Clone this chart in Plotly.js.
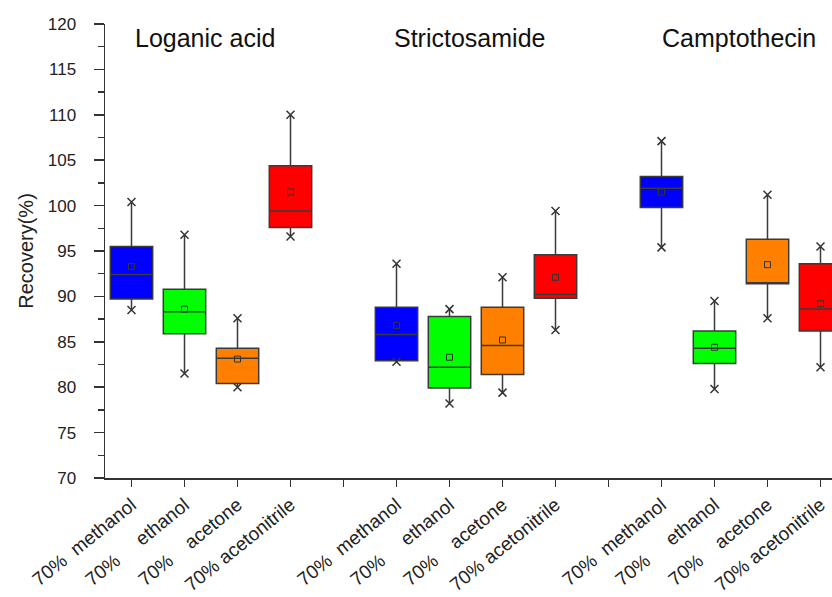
<!DOCTYPE html>
<html>
<head>
<meta charset="utf-8">
<script src="https://cdn.plot.ly/plotly-3.0.1.min.js"></script>
<style>html,body{margin:0;padding:0;background:#fff;}#chart{width:832px;height:597px;}</style>
</head>
<body>
<div id="chart"></div>
<script>
// Groups (compounds) and solvents
const compounds = ['Loganic acid', 'Strictosamide', 'Camptothecin'];
const solvents = ['methanol', 'ethanol', 'acetone', 'acetonitrile'];
const solventLabels = [
  '70%\u00a0\u00a0methanol',
  '70%\u00a0\u00a0\u00a0\u00a0\u00a0ethanol',
  '70%\u00a0\u00a0\u00a0\u00a0acetone',
  '70%\u00a0acetonitrile'
];
const solventColors = ['#0000FF', '#00FF00', '#FF8000', '#FF0000'];

// Statistics, rows = compound, columns = solvent (methanol, ethanol, acetone, acetonitrile)
const lowerWhisker = [
  [88.5, 81.5, 80.0, 96.6],
  [82.8, 78.2, 79.4, 86.3],
  [95.4, 79.8, 87.6, 82.2]
];
const q1 = [
  [89.7, 85.9, 80.4, 97.6],
  [82.9, 79.9, 81.4, 89.8],
  [99.8, 82.6, 91.4, 86.2]
];
const median = [
  [92.4, 88.3, 83.2, 99.4],
  [85.8, 82.2, 84.6, 90.2],
  [101.9, 84.3, 91.4, 88.6]
];
const q3 = [
  [95.5, 90.8, 84.3, 104.4],
  [88.8, 87.8, 88.8, 94.6],
  [103.2, 86.2, 96.3, 93.6]
];
const upperWhisker = [
  [100.4, 96.8, 87.6, 110.0],
  [93.6, 88.6, 92.1, 99.4],
  [107.1, 89.5, 101.2, 95.5]
];
const meanVal = [
  [93.3, 88.6, 83.1, 101.5],
  [86.8, 83.3, 85.2, 92.1],
  [101.5, 84.4, 93.5, 89.2]
];

// category slots: 4 solvents per compound + 1 blank gap slot
const slotsPerGroup = solvents.length + 1;
const tickVals = [];
const tickText = [];
for (let g = 0; g < compounds.length; g++) {
  for (let s = 0; s < slotsPerGroup; s++) {
    const pos = g * slotsPerGroup + s + 1;
    if (g === compounds.length - 1 && s === solvents.length) break;
    tickVals.push(pos);
    tickText.push(s < solvents.length ? solventLabels[s] : '');
  }
}

const traces = [];
const capX = [], capY = [], meanX = [], meanY = [];
solvents.forEach((sv, s) => {
  const xs = compounds.map((c, g) => g * slotsPerGroup + s + 1);
  traces.push({
    type: 'box',
    x: xs,
    q1: compounds.map((c, g) => q1[g][s]),
    median: compounds.map((c, g) => median[g][s]),
    q3: compounds.map((c, g) => q3[g][s]),
    lowerfence: compounds.map((c, g) => lowerWhisker[g][s]),
    upperfence: compounds.map((c, g) => upperWhisker[g][s]),
    width: 0.8,
    whiskerwidth: 0,
    fillcolor: solventColors[s],
    line: {color: '#3a3a3a', width: 1.5},
    boxpoints: false,
    showlegend: false,
    hoverinfo: 'skip'
  });
  compounds.forEach((c, g) => {
    capX.push(xs[g], xs[g]);
    capY.push(lowerWhisker[g][s], upperWhisker[g][s]);
    meanX.push(xs[g]);
    meanY.push(meanVal[g][s]);
  });
});

traces.push({
  type: 'scatter', mode: 'markers', x: capX, y: capY,
  marker: {symbol: 'x-thin-open', size: 8, color: '#333', line: {color: '#333', width: 1.5}},
  showlegend: false, hoverinfo: 'skip'
});
traces.push({
  type: 'scatter', mode: 'markers', x: meanX, y: meanY,
  marker: {symbol: 'square-open', size: 6, color: '#333', line: {color: '#333', width: 1}},
  showlegend: false, hoverinfo: 'skip'
});

const groupTitleX = [1.03, 5.92, 10.97];
const annotations = compounds.map((c, g) => ({
  text: c, xref: 'x', yref: 'paper', x: groupTitleX[g], y: 0.969,
  xanchor: 'left', yanchor: 'middle', showarrow: false,
  font: {family: 'Liberation Sans, Arial, sans-serif', size: 25, color: '#111'}
}));

const layout = {
  width: 832, height: 597,
  margin: {l: 105, r: 0, t: 24, b: 119},
  paper_bgcolor: '#fff', plot_bgcolor: '#fff',
  boxmode: 'overlay',
  font: {family: 'Liberation Sans, Arial, sans-serif', color: '#222'},
  xaxis: {
    range: [0.5, 14.217],
    tickvals: tickVals, ticktext: tickText,
    tickangle: -39,
    ticks: 'outside', ticklen: 7, tickwidth: 1.5, tickcolor: '#333',
    showline: true, linecolor: '#333', linewidth: 1.5,
    showgrid: false, zeroline: false,
    tickfont: {size: 19, color: '#222'}
  },
  yaxis: {
    range: [70, 120], dtick: 5, tick0: 70,
    ticks: 'outside', ticklen: 10, tickwidth: 1.5, tickcolor: '#333',
    minor: {dtick: 2.5, ticks: 'outside', ticklen: 6, tickwidth: 1.5, tickcolor: '#333'},
    showline: true, linecolor: '#333', linewidth: 1.5,
    showgrid: false, zeroline: false,
    ticklabelstandoff: 14,
    tickfont: {size: 17, color: '#222'},
    title: {text: 'Recovery(%)', font: {size: 20, color: '#222'}, standoff: 8}
  },
  annotations: annotations
};

Plotly.newPlot('chart', traces, layout, {displayModeBar: false, staticPlot: true});
</script>
</body>
</html>
